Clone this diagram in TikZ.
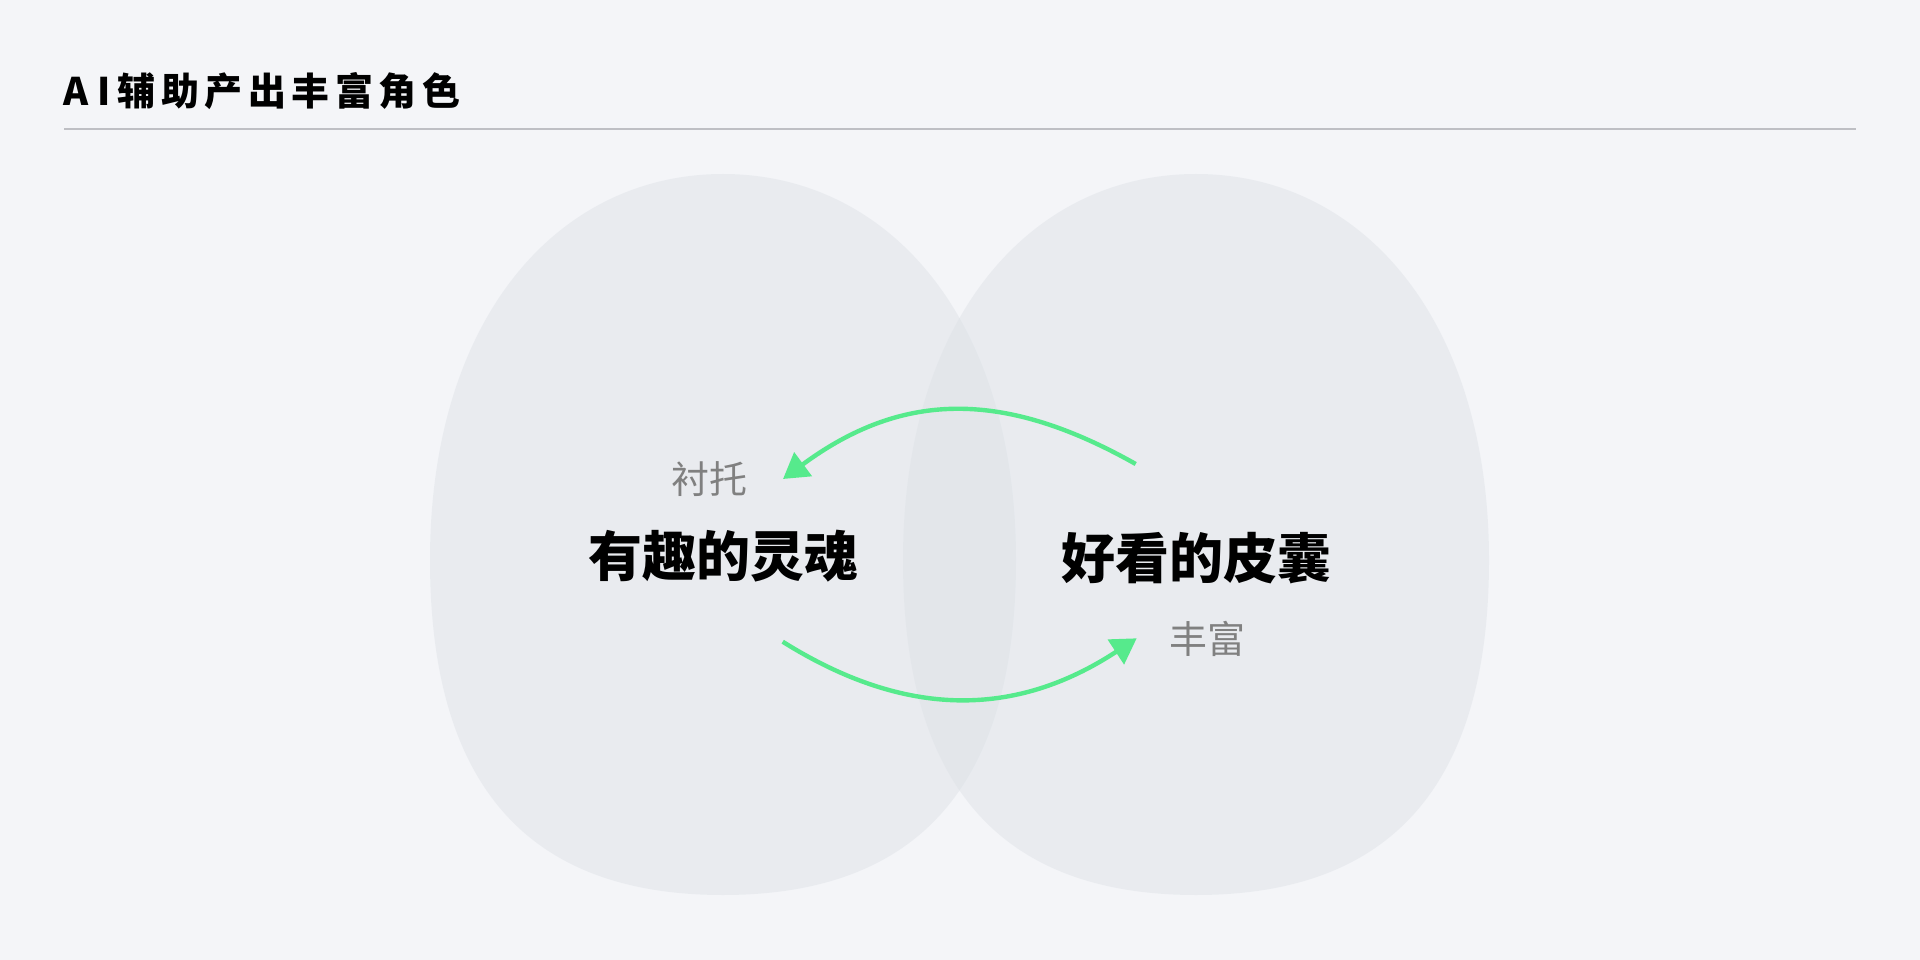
\documentclass[tikz,border=0pt]{standalone}
\usepackage{fontspec}
\setmainfont{Noto Sans CJK SC}
\usetikzlibrary{arrows.meta}
\definecolor{bgc}{RGB}{244,245,248}
\definecolor{blobc}{RGB}{220,225,230}
\definecolor{rulec}{RGB}{190,191,196}
\definecolor{arrowc}{RGB}{86,234,140}
\definecolor{subc}{RGB}{128,128,128}
\newcommand{\tsp}{\hspace{5.5pt}}
\newcommand{\blobpath}[1]{%
  (#1,174) .. controls ({#1-165},174) and ({#1-293},318) .. ({#1-293},560)
  .. controls ({#1-293},784.5) and ({#1-196},895) .. (#1,895)
  .. controls ({#1+196},895) and ({#1+293},784.5) .. ({#1+293},560)
  .. controls ({#1+293},318) and ({#1+165},174) .. (#1,174) -- cycle}
\begin{document}
\begin{tikzpicture}[x=1pt,y=-1pt,
  blob/.style={fill=blobc, fill opacity=0.45},
  link/.style={draw=arrowc, line width=4.4pt, -{Triangle[length=25pt,width=29pt]}},
  mainlabel/.style={font=\fontsize{54}{60}\selectfont\bfseries, text=black, inner sep=0pt},
  sublabel/.style={font=\fontsize{38}{44}\selectfont, text=subc, inner sep=0pt},
  titlelabel/.style={font=\fontsize{38}{44}\selectfont\bfseries, text=black, inner sep=0pt, anchor=west},
  rule/.style={draw=rulec, line width=1.5pt}
]
\fill[bgc] (0,0) rectangle (1920,960);
\useasboundingbox (0,0) rectangle (1920,960);

% title and rule
\node[titlelabel] (title) at (63,91) {A\hspace{9pt}I\hspace{7pt}辅\tsp 助\tsp 产\tsp 出\tsp 丰\tsp 富\tsp 角\tsp 色};
\coordinate (ruleL) at (64,129);
\coordinate (ruleR) at (1856,129);
\draw[rule] (ruleL) -- (ruleR);

% blobs
\fill[blob] \blobpath{723};
\fill[blob] \blobpath{1196};

% labels
\node[mainlabel] (soul) at (723,556) {有趣的灵魂};
\node[mainlabel] (skin) at (1196,558) {好看的皮囊};
\node[sublabel] (foil) at (709.5,479) {衬托};
\node[sublabel] (rich) at (1207,639) {丰富};

% connectors
\coordinate (upS) at (1135.7,464);
\coordinate (upE) at (783,479);
\coordinate (loS) at (782.7,641.7);
\coordinate (loE) at (1136.7,638.3);
\draw[link] (upS) .. controls (1005.2,390.5) and (903.6,389.9) .. (upE);
\draw[link] (loS) .. controls (905.5,718.7) and (1015.5,717.8) .. (loE);
\end{tikzpicture}
\end{document}
